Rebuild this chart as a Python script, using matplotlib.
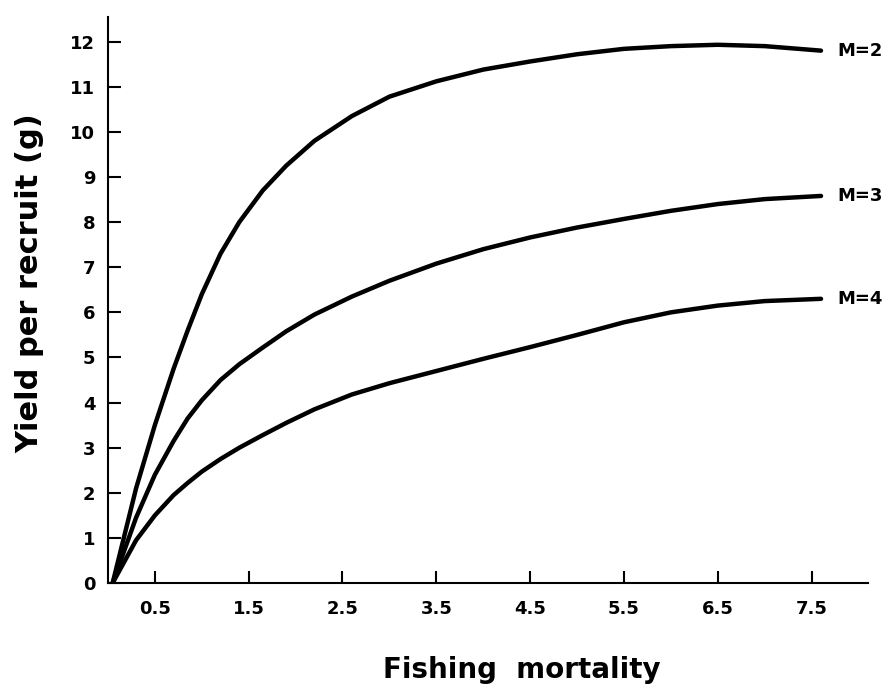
import matplotlib.pyplot as plt

# fishing mortality F and yield per recruit (g) for each natural mortality M
F = [0.05, 0.3, 0.5, 0.7, 0.85, 1.0, 1.2, 1.4, 1.65, 1.9, 2.2, 2.6, 3.0, 3.5,
     4.0, 4.5, 5.0, 5.5, 6.0, 6.5, 7.0, 7.6]
y_m2 = [0, 2.1, 3.5, 4.75, 5.6, 6.4, 7.3, 8.0, 8.7, 9.25, 9.8, 10.35, 10.78, 11.12,
        11.38, 11.56, 11.72, 11.84, 11.9, 11.93, 11.9, 11.8]
y_m3 = [0, 1.45, 2.4, 3.15, 3.65, 4.05, 4.5, 4.85, 5.22, 5.58, 5.95, 6.35, 6.7, 7.08,
        7.4, 7.66, 7.88, 8.07, 8.25, 8.4, 8.51, 8.58]
y_m4 = [0, 0.95, 1.5, 1.95, 2.22, 2.47, 2.75, 3.0, 3.28, 3.55, 3.85, 4.18, 4.43, 4.7,
        4.97, 5.23, 5.5, 5.78, 6.0, 6.15, 6.25, 6.3]

curves = [("M=2", y_m2), ("M=3", y_m3), ("M=4", y_m4)]

xticks = [0.5, 1.5, 2.5, 3.5, 4.5, 5.5, 6.5, 7.5]
yticks = list(range(0, 13))

fig = plt.figure(figsize=(8.92, 7.0), dpi=100)
ax = fig.add_axes([0.121, 0.167, 0.852, 0.809])

for name, ys in curves:
    ax.plot(F, ys, color='black', lw=3.2, solid_capstyle='round', solid_joinstyle='round')
    ax.text(7.77, ys[-1], name, ha='left', va='center', fontsize=13, fontweight='bold')

ax.set_xlim(0, 8.1)
ax.set_ylim(0, 12.55)
ax.set_xticks(xticks)
ax.set_xticklabels([str(t) for t in xticks])
ax.set_yticks(yticks)

ax.spines['top'].set_visible(False)
ax.spines['right'].set_visible(False)
for s in ('left', 'bottom'):
    ax.spines[s].set_linewidth(1.5)

ax.tick_params(axis='both', direction='in', length=9, width=1.5, labelsize=13)
ax.tick_params(axis='x', pad=12)
ax.tick_params(axis='y', pad=9)
for lab in ax.get_xticklabels() + ax.get_yticklabels():
    lab.set_fontweight('bold')

fig.text(0.585, 0.043, "Fishing  mortality", ha='center', va='center', fontsize=20, fontweight='bold')
fig.text(0.034, 0.595, "Yield per recruit (g)", ha='center', va='center', rotation=90,
         fontsize=22, fontweight='bold')

fig.savefig('out.png', dpi=100)
